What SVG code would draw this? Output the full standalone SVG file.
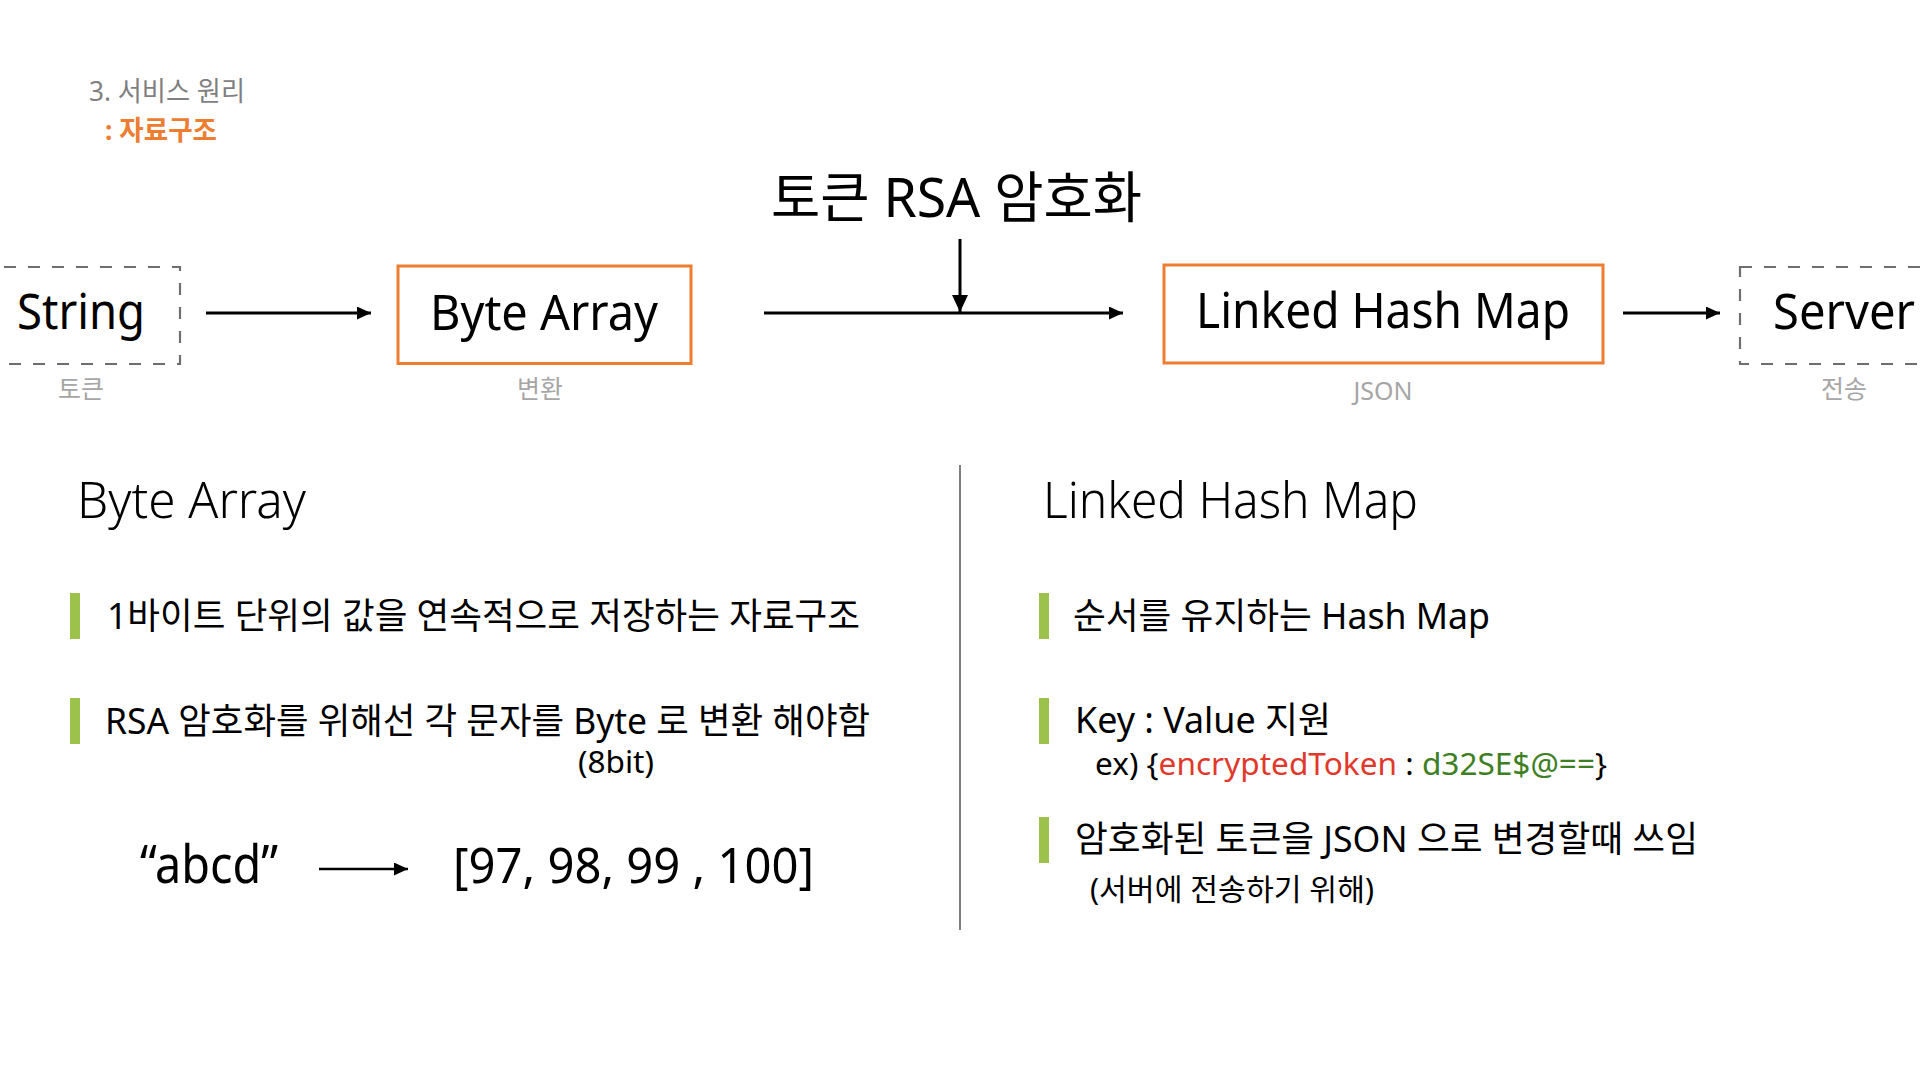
<svg xmlns="http://www.w3.org/2000/svg" width="1920" height="1080" viewBox="0 0 1920 1080">
<style>
text{font-family:"Noto Sans","Noto Sans CJK KR",sans-serif;fill:#000}
.node{font-size:50px}
.sub{font-size:25px;fill:#A6A6A6;text-anchor:middle}
.head{font-size:50px;font-weight:300}
.body{font-size:36px}
.small{font-size:30px}
.dash{fill:none;stroke:#6F6F6F;stroke-width:2.2;stroke-dasharray:12 12}
.obox{fill:none;stroke:#ED7D31;stroke-width:3}
.bar{fill:#9DC24C}
.conn{stroke:#000;stroke-width:3;fill:none}
</style>
<defs>
<marker id="ah" markerUnits="userSpaceOnUse" markerWidth="14" markerHeight="13" refX="14" refY="6.5" orient="auto"><path d="M0,0 L14,6.5 L0,13 z" fill="#000"/></marker>
<marker id="ahv" markerUnits="userSpaceOnUse" markerWidth="17" markerHeight="16" refX="17" refY="8" orient="auto"><path d="M0,0 L17,8 L0,16 z" fill="#000"/></marker>
</defs>
<rect width="1920" height="1080" fill="#fff"/>

<g id="header">
<text x="89" y="101" font-size="27" fill="#7F7F7F" style="fill:#7F7F7F" textLength="156" lengthAdjust="spacingAndGlyphs">3. 서비스 원리</text>
<text x="105" y="140" font-size="27" font-weight="700" style="fill:#ED7D31" textLength="112" lengthAdjust="spacingAndGlyphs">: 자료구조</text>
</g>

<g id="title">
<text x="771" y="217" font-size="55" textLength="371" lengthAdjust="spacingAndGlyphs">토큰 RSA 암호화</text>
</g>

<g id="node-string">
<rect class="dash" x="-20" y="267" width="200" height="97"/>
<text class="node" x="17" y="329" textLength="128" lengthAdjust="spacingAndGlyphs">String</text>
<text class="sub" x="81" y="398">토큰</text>
</g>

<g id="node-bytearray">
<rect class="obox" x="398" y="266" width="293" height="97.5"/>
<text class="node" x="430" y="330" textLength="228" lengthAdjust="spacingAndGlyphs">Byte Array</text>
<text class="sub" x="540" y="398">변환</text>
</g>

<g id="node-linkedhashmap">
<rect class="obox" x="1164" y="265" width="439" height="98"/>
<text class="node" x="1196" y="328" textLength="374" lengthAdjust="spacingAndGlyphs">Linked Hash Map</text>
<text class="sub" x="1383" y="400">JSON</text>
</g>

<g id="node-server">
<rect class="dash" x="1740" y="267" width="220" height="97"/>
<text class="node" x="1773" y="329" textLength="142" lengthAdjust="spacingAndGlyphs">Server</text>
<text class="sub" x="1844" y="398">전송</text>
</g>

<g id="connectors">
<line class="conn" x1="206" y1="313" x2="371" y2="313" marker-end="url(#ah)"/>
<line class="conn" x1="764" y1="313" x2="1123" y2="313" marker-end="url(#ah)"/>
<line class="conn" x1="960" y1="239" x2="960" y2="312" marker-end="url(#ahv)"/>
<line class="conn" x1="1623" y1="313" x2="1720" y2="313" marker-end="url(#ah)"/>
<line class="conn" style="stroke-width:2.5" x1="319" y1="869" x2="408" y2="869" marker-end="url(#ah)"/>
</g>

<g id="divider">
<line x1="960" y1="465" x2="960" y2="930" stroke="#7F7F7F" stroke-width="2"/>
</g>

<g id="left-panel">
<text class="head" x="77" y="518" textLength="229" lengthAdjust="spacingAndGlyphs">Byte Array</text>
<rect class="bar" x="70" y="593" width="10" height="46"/>
<text class="body" x="107" y="629" textLength="753" lengthAdjust="spacingAndGlyphs">1바이트 단위의 값을 연속적으로 저장하는 자료구조</text>
<rect class="bar" x="70" y="698" width="10" height="46"/>
<text class="body" x="105" y="734" textLength="765" lengthAdjust="spacingAndGlyphs">RSA 암호화를 위해선 각 문자를 Byte 로 변환 해야함</text>
<text class="small" x="578" y="773" textLength="76" lengthAdjust="spacingAndGlyphs">(8bit)</text>
<text x="140" y="883" font-size="52" textLength="138" lengthAdjust="spacingAndGlyphs">“abcd”</text>
<text x="453" y="883" font-size="50" textLength="361" lengthAdjust="spacingAndGlyphs">[97, 98, 99 , 100]</text>
</g>

<g id="right-panel">
<text class="head" x="1043" y="518" textLength="375" lengthAdjust="spacingAndGlyphs">Linked Hash Map</text>
<rect class="bar" x="1039" y="593" width="10" height="46"/>
<text class="body" x="1073" y="629" textLength="417" lengthAdjust="spacingAndGlyphs">순서를 유지하는 Hash Map</text>
<rect class="bar" x="1039" y="698" width="10" height="46"/>
<text class="body" x="1075" y="733" textLength="256" lengthAdjust="spacingAndGlyphs">Key : Value 지원</text>
<text class="small" x="1095" y="775" textLength="512" lengthAdjust="spacingAndGlyphs">ex) {<tspan style="fill:#E0392B">encryptedToken</tspan> : <tspan style="fill:#3E7F24">d32SE$@==</tspan>}</text>
<rect class="bar" x="1039" y="817" width="10" height="46"/>
<text class="body" x="1075" y="852" textLength="623" lengthAdjust="spacingAndGlyphs">암호화된 토큰을 JSON 으로 변경할때 쓰임</text>
<text class="small" x="1090" y="900" textLength="284" lengthAdjust="spacingAndGlyphs">(서버에 전송하기 위해)</text>
</g>
</svg>
